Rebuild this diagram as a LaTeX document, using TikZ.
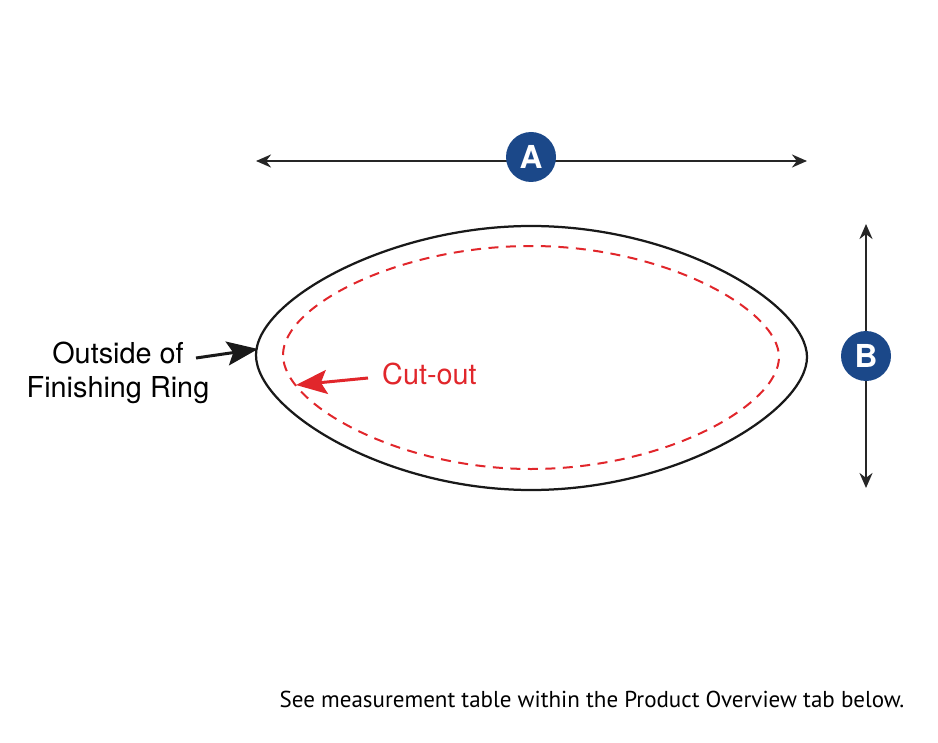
\documentclass[tikz,border=0pt]{standalone}
\usepackage{fontspec}
\setmainfont{TeX Gyre Heros}
\newfontfamily\notefont{PT Sans}
\usetikzlibrary{positioning}
\usetikzlibrary{arrows.meta}
\definecolor{ringblue}{HTML}{1B4889}
\definecolor{cutred}{HTML}{E1262B}

\begin{document}
\begin{tikzpicture}[x=0.2mm,y=-0.2mm,>={Stealth[length=3mm,width=2.6mm]},
    dim/.style={<->,line width=0.45mm,black!85},
    badge/.style={circle,fill=ringblue,text=white,minimum size=10mm,inner sep=0pt,font=\fontsize{18}{18}\selectfont\bfseries},
    label/.style={font=\fontsize{16.4}{19}\selectfont,align=center},
    pointer/.style={->,line width=0.6mm,>={Stealth[length=6.2mm,width=4.8mm,inset=1.2mm]}}]
      \useasboundingbox (0,0) rectangle (938,743);
      % dimension A
      \coordinate (AL) at (256,161);
      \coordinate (AR) at (807,161);
      \draw[dim] (AL) -- (AR);
      \node[badge] (A) at (531,157) {A};
      % dimension B
      \coordinate (BT) at (866,224);
      \coordinate (BB) at (866,488);
      \draw[dim] (BT) -- (BB);
      \node[badge] (B) at (866,356) {B};
      % finishing ring and cut-out
      \draw[line width=0.45mm,black!90] (256,355) .. controls (256,300) and (390,226) .. (531,226)
        .. controls (680,226) and (807,305) .. (807,357)
        .. controls (807,410) and (680,490) .. (531,490)
        .. controls (385,490) and (256,410) .. (256,355) -- cycle;
      \draw[cutred,line width=0.4mm,dash pattern=on 2mm off 1.5mm] (283,355) .. controls (283,305) and (400,246) .. (531,246)
        .. controls (665,246) and (779,310) .. (779,357)
        .. controls (779,405) and (665,469) .. (531,469)
        .. controls (400,469) and (283,405) .. (283,355) -- cycle;
      \coordinate (ringtip) at (258,349);
      \coordinate (cuttip) at (296,385);
      \node[label] (outside) at (118,373) {Outside of\\Finishing Ring};
      \node[label,text=cutred,anchor=west] (cutout) at (376,374) {Cut-out};
      \draw[pointer,black!90] (196,358) -- (ringtip);
      \draw[pointer,cutred] (368,378) -- (cuttip);
      \node[font=\notefont\fontsize{13.1}{16}\selectfont] (note) at (592,699) {See measurement table within the Product Overview tab below.};
    \end{tikzpicture}
\end{document}
